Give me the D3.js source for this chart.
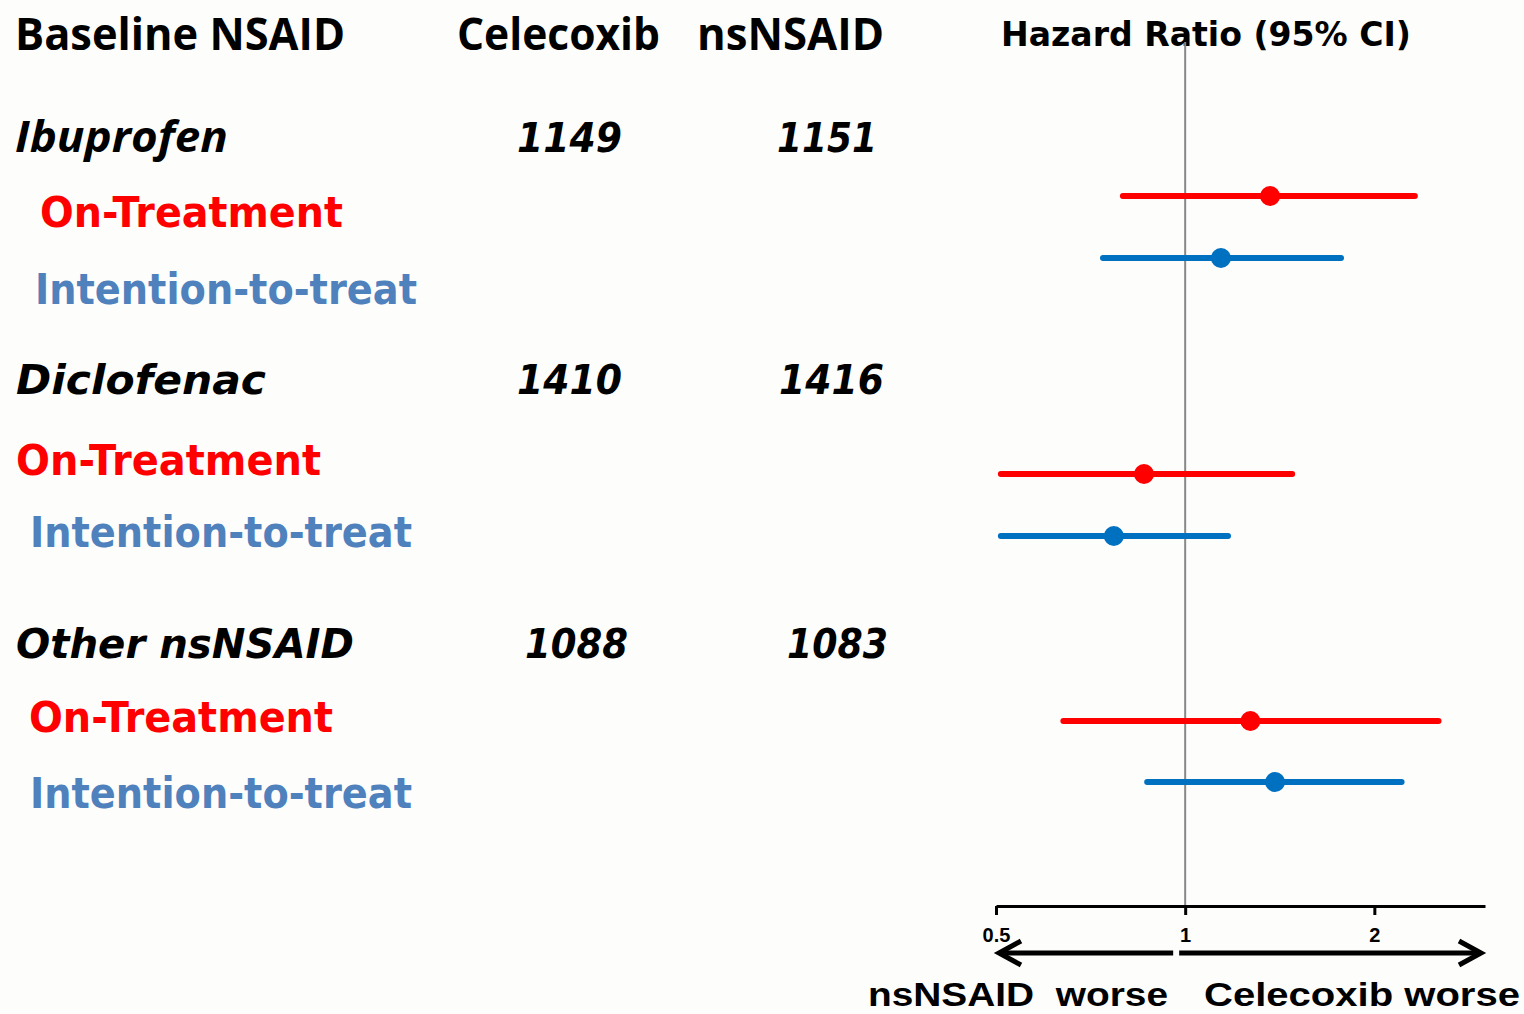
<!DOCTYPE html>
<html>
<head>
<meta charset="utf-8">
<script src="https://cdn.jsdelivr.net/npm/d3@7"></script>
<style>
  html, body { margin: 0; padding: 0; background: #fdfdfb; }
  svg { display: block; }
</style>
</head>
<body>
<svg id="chart" width="1524" height="1014"></svg>
<script>
// ---------------- DATA ----------------
const groups = ["Ibuprofen", "Diclofenac", "Other nsNSAID"];
const celecoxibN = ["1149", "1410", "1088"];
const nsnsaidN = ["1151", "1416", "1083"];
const analyses = ["On-Treatment", "Intention-to-treat"];
// hazard ratios per group, [On-Treatment, Intention-to-treat]
const hrPoint = [[1.365, 1.14], [0.86, 0.77], [1.27, 1.39]];
const hrLower = [[0.796, 0.74], [0.509, 0.509], [0.64, 0.87]];
const hrUpper = [[2.32, 1.77], [1.48, 1.17], [2.53, 2.21]];
const tickValues = [0.5, 1, 2];
const tickLabels = ["0.5", "1", "2"];
const headers = ["Baseline NSAID", "Celecoxib", "nsNSAID", "Hazard Ratio (95% CI)"];
const directionLabels = ["nsNSAID  worse", "Celecoxib worse"];

// ---------------- LAYOUT ----------------
const svg = d3.select("#chart");
const W = 1524, H = 1014;
svg.append("rect").attr("width", W).attr("height", H).attr("fill", "#fdfdfb");

const x = d3.scaleLog().domain([0.5, 3]).range([996, 1485]);
const axisY = 906;

const calibri = "'Open Sans', Lato, sans-serif";
const verdana = "'DejaVu Sans', Verdana, sans-serif";
const arial = "'Liberation Sans', Arial, sans-serif";

const seriesColors = ["#ff0000", "#0070c0"];
const labelColors = ["#ff0000", "#4f81bd"];

// line y for each group / analysis
const markY = [[196, 258], [474, 536], [721, 782]];
// text placements
const groupLabelPos = [{x: 15, y: 152, w: 213}, {x: 16, y: 394, w: 250}, {x: 16, y: 658, w: 338}];
const celecoxPos = [{x: 517, w: 105}, {x: 517, w: 105}, {x: 525, w: 103}];
const nsPos = [{x: 777, w: 100}, {x: 779, w: 105}, {x: 787, w: 101}];
const subPos = [
  [{x: 40, y: 227, w: 303}, {x: 35, y: 304, w: 382}],
  [{x: 16, y: 475, w: 305}, {x: 30, y: 547, w: 382}],
  [{x: 29, y: 732, w: 304}, {x: 30, y: 808, w: 382}]
];

function txt(s, px, py, w, font, size, opts = {}) {
  const t = svg.append("text")
    .attr("x", px).attr("y", py)
    .attr("font-family", font)
    .attr("font-size", size)
    .attr("font-weight", opts.weight || "bold")
    .attr("font-style", opts.style || "normal")
    .attr("fill", opts.fill || "#000")
    .style("white-space", "pre")
    .text(s);
  if (w) t.attr("textLength", w).attr("lengthAdjust", "spacingAndGlyphs");
  return t;
}

// headers
txt(headers[0], 15, 50, 330, calibri, 44);
txt(headers[1], 457, 50, 203, calibri, 44);
txt(headers[2], 697, 50, 187, calibri, 44);
txt(headers[3], 1001, 46, 410, verdana, 33);

// reference line at HR = 1
svg.append("line")
  .attr("x1", x(1)).attr("x2", x(1))
  .attr("y1", 42).attr("y2", axisY)
  .attr("stroke", "#888").attr("stroke-width", 2);

groups.forEach((g, gi) => {
  const gp = groupLabelPos[gi];
  txt(g, gp.x, gp.y, gp.w, gi === 0 ? calibri : verdana, gi === 0 ? 43 : 41, {style: "italic"});
  txt(celecoxibN[gi], celecoxPos[gi].x, gp.y, celecoxPos[gi].w, verdana, 41, {style: "italic"});
  txt(nsnsaidN[gi], nsPos[gi].x, gp.y, nsPos[gi].w, verdana, 41, {style: "italic"});
  analyses.forEach((a, ai) => {
    const sp = subPos[gi][ai];
    txt(a, sp.x, sp.y, sp.w, verdana, 42, {fill: labelColors[ai]});
    const y = markY[gi][ai];
    svg.append("line")
      .attr("x1", x(hrLower[gi][ai])).attr("x2", x(hrUpper[gi][ai]))
      .attr("y1", y).attr("y2", y)
      .attr("stroke", seriesColors[ai]).attr("stroke-width", 6)
      .attr("stroke-linecap", "round");
    svg.append("circle")
      .attr("cx", x(hrPoint[gi][ai])).attr("cy", y).attr("r", 10)
      .attr("fill", seriesColors[ai]);
  });
});

// axis
const axis = d3.axisBottom(x)
  .tickValues(tickValues)
  .tickFormat((d, i) => tickLabels[i])
  .tickSize(9)
  .tickSizeOuter(0)
  .tickPadding(13);
const ax = svg.append("g").attr("transform", `translate(0,${axisY})`).call(axis);
ax.select(".domain").attr("stroke", "#000").attr("stroke-width", 3);
ax.selectAll(".tick line").attr("stroke", "#000").attr("stroke-width", 3);
ax.selectAll(".tick text")
  .attr("font-family", arial).attr("font-size", 20).attr("font-weight", "bold")
  .attr("fill", "#000");

// direction arrows
const arrowY = 953;
const leftEnd = x.range()[0] + 3, rightEnd = x.range()[1] - 4;
svg.append("line").attr("x1", x(1) - 12).attr("x2", leftEnd + 2)
  .attr("y1", arrowY).attr("y2", arrowY).attr("stroke", "#000").attr("stroke-width", 5);
svg.append("line").attr("x1", x(1) - 6).attr("x2", rightEnd - 2)
  .attr("y1", arrowY).attr("y2", arrowY).attr("stroke", "#000").attr("stroke-width", 5);
svg.append("path")
  .attr("d", `M${leftEnd + 22},${arrowY - 12} L${leftEnd},${arrowY} L${leftEnd + 22},${arrowY + 12}`)
  .attr("fill", "none").attr("stroke", "#000").attr("stroke-width", 5)
  .attr("stroke-linejoin", "miter");
svg.append("path")
  .attr("d", `M${rightEnd - 22},${arrowY - 12} L${rightEnd},${arrowY} L${rightEnd - 22},${arrowY + 12}`)
  .attr("fill", "none").attr("stroke", "#000").attr("stroke-width", 5)
  .attr("stroke-linejoin", "miter");

// direction labels
txt(directionLabels[0], 868, 1006, 300, arial, 34);
txt(directionLabels[1], 1204, 1006, 316, arial, 34);
</script>
</body>
</html>
